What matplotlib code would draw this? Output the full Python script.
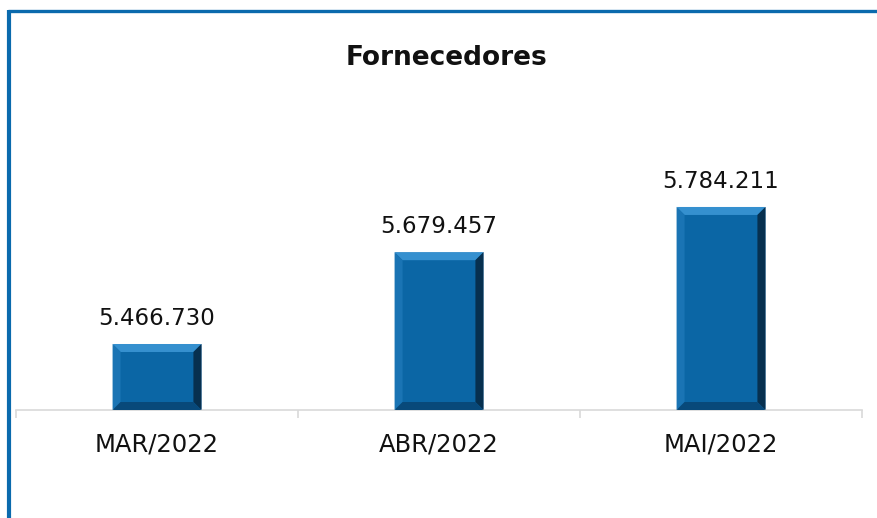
import matplotlib.pyplot as plt
from matplotlib.patches import Polygon
from matplotlib.lines import Line2D

# DATA
meses = ["MAR/2022", "ABR/2022", "MAI/2022"]
valores = [5466730, 5679457, 5784211]
rotulos = ["5.466.730", "5.679.457", "5.784.211"]

W, H = 877, 518
fig = plt.figure(figsize=(W / 100, H / 100), dpi=100)
ax = fig.add_axes([16 / W, 1 - 410 / H, 846 / W, 280 / H])

y_min = 5313800
y_max = y_min + 280 * 2317
largura = 0.315
azul = "#0b66a5"

bars = ax.bar(range(len(meses)), valores, width=largura, color=azul,
              edgecolor="#8fb4d0", linewidth=0.6, zorder=2)
ax.set_xlim(-0.5, len(meses) - 0.5)
ax.set_ylim(y_min, y_max)

# BEVEL EFFECT (sizes in pixels converted to data units)
px_x = len(meses) / 846
px_y = (y_max - y_min) / 280
bx, by = 8 * px_x, 8 * px_y
for rect in bars:
    x0 = rect.get_x()
    x1 = x0 + rect.get_width()
    y1 = rect.get_height()
    y0 = y_min
    faces = [
        ([(x0, y1), (x1, y1), (x1 - bx, y1 - by), (x0 + bx, y1 - by)], "#3590cf"),
        ([(x0, y0), (x0, y1), (x0 + bx, y1 - by), (x0 + bx, y0 + by)], "#1a74b4"),
        ([(x1, y0), (x1, y1), (x1 - bx, y1 - by), (x1 - bx, y0 + by)], "#07304f"),
        ([(x0, y0), (x1, y0), (x1 - bx, y0 + by), (x0 + bx, y0 + by)], "#08497a"),
    ]
    for pts, c in faces:
        ax.add_patch(Polygon(pts, closed=True, facecolor=c, edgecolor="none", zorder=3))

for i, v in enumerate(valores):
    ax.text(i, v + 14 * px_y, rotulos[i], ha="center", va="bottom",
            fontsize=16.5, color="#111111")

# AXES STYLE
for s in ["top", "right", "left"]:
    ax.spines[s].set_visible(False)
ax.spines["bottom"].set_color("#d9d9d9")
ax.spines["bottom"].set_linewidth(1.2)
ax.set_yticks([])
ax.set_xticks([i - 0.5 for i in range(len(meses) + 1)])
ax.set_xticklabels([])
ax.tick_params(axis="x", which="major", length=6, width=1.2, color="#d9d9d9")
ax.set_xticks(range(len(meses)), minor=True)
ax.set_xticklabels(meses, minor=True, fontsize=17.5, color="#111111")
ax.tick_params(axis="x", which="minor", length=0, pad=16)
ax.patch.set_alpha(0)

fig.text(447 / W, 1 - 58 / H, "Fornecedores", ha="center", va="center",
         fontsize=19, fontweight="bold", color="#111111")

# BLUE FRAME (left and top)
fig.add_artist(Line2D([9 / W, 9 / W], [0, 1 - 10 / H], color="#0a6aad",
                      linewidth=3, solid_capstyle="butt"))
fig.add_artist(Line2D([7.5 / W, 1], [1 - 11 / H, 1 - 11 / H], color="#0a6aad",
                      linewidth=2.4, solid_capstyle="butt"))

fig.savefig("out.png", dpi=100)
